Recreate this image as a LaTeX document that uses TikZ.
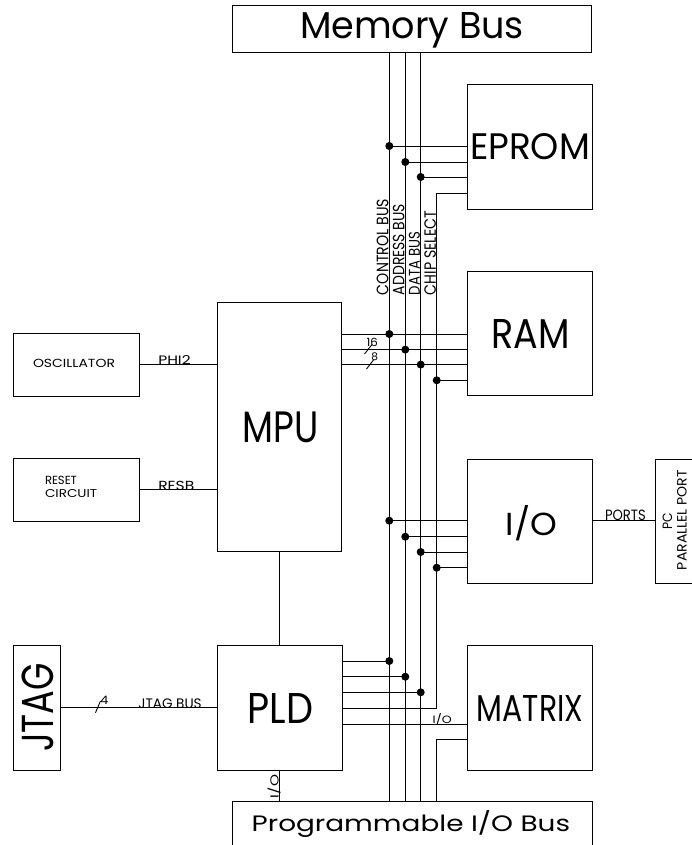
\documentclass[tikz,border=0pt]{standalone}
\usepackage{fontspec}
\setmainfont{Poppins}
\usepackage{graphicx}
\newcommand{\fitt}[3]{\resizebox{#1pt}{#2pt}{#3}}
\begin{document}
\begin{tikzpicture}[x=1pt,y=-1pt,
  blk/.style={draw, line width=0.8pt, inner sep=0pt, outer sep=0pt},
  txt/.style={anchor=base west, inner sep=0pt, outer sep=0pt},
  rtxt/.style={txt, rotate=90},
  wire/.style={line width=0.9pt},
  jdot/.style={fill, circle, minimum size=8pt, inner sep=0pt, outer sep=0pt}]
\useasboundingbox (0,0) rectangle (692,845);
\clip (0,0) rectangle (692,845);

% boxes
\node[blk, minimum width=359.4pt, minimum height=47pt]  (membus) at (412,29.2) {};
\node[blk, minimum width=124.6pt, minimum height=124.7pt] (eprom) at (529.9,146.6) {};
\node[blk, minimum width=124.6pt, minimum height=124pt]   (ram) at (529.9,333) {};
\node[blk, minimum width=124.6pt, minimum height=124.3pt] (io) at (529.9,521.1) {};
\node[blk, minimum width=124.6pt, minimum height=124.3pt] (matrix) at (529.9,707.9) {};
\node[blk, minimum width=125pt, minimum height=124.3pt]   (pld) at (279.5,707.9) {};
\node[blk, minimum width=124.4pt, minimum height=249pt]   (mpu) at (279.5,427.2) {};
\node[blk, minimum width=126pt, minimum height=62.7pt]    (osc) at (76.3,364.6) {};
\node[blk, minimum width=126pt, minimum height=63pt]      (reset) at (76.3,489.5) {};
\node[blk, minimum width=47pt, minimum height=124.3pt]    (jtag) at (36.8,707.9) {};
\node[blk, minimum width=360.4pt, minimum height=68.3pt]  (progbus) at (412.5,835.9) {};
\node[blk, minimum width=74.7pt, minimum height=124.3pt]  (pcport) at (692.6,521.1) {};

% bus x positions
\coordinate (xc) at (389.3,0);
\coordinate (xa) at (405.3,0);
\coordinate (xd) at (420.7,0);
\coordinate (xs) at (436.7,0);

% main buses
\draw[wire] (membus.south -| xc) -- (progbus.north -| xc);
\draw[wire] (membus.south -| xa) -- (progbus.north -| xa);
\draw[wire] (membus.south -| xd) -- (progbus.north -| xd);

% EPROM
\coordinate (e1) at (389.3,146);
\coordinate (e2) at (405.3,162);
\coordinate (e3) at (420.7,177);
\coordinate (e4) at (436.7,193);
\draw[wire] (e1) -- (eprom.west |- e1);
\draw[wire] (e2) -- (eprom.west |- e2);
\draw[wire] (e3) -- (eprom.west |- e3);
\coordinate (pcs) at (436.7,708);
\draw[wire] (eprom.west |- e4) -- (e4) -- (pcs) -- (pld.east |- pcs);
\node[jdot] (d-e1) at (e1) {};
\node[jdot] (d-e2) at (e2) {};
\node[jdot] (d-e3) at (e3) {};

% RAM / MPU
\coordinate (r1) at (389.3,334);
\coordinate (r2) at (405.3,349.6);
\coordinate (r3) at (420.7,364.6);
\coordinate (r4) at (436.7,380.3);
\draw[wire] (mpu.east |- r1) -- (ram.west |- r1);
\draw[wire] (mpu.east |- r2) -- (ram.west |- r2);
\draw[wire] (mpu.east |- r3) -- (ram.west |- r3);
\draw[wire] (r4) -- (ram.west |- r4);
\node[jdot] (d-r1) at (r1) {};
\node[jdot] (d-r2) at (r2) {};
\node[jdot] (d-r3) at (r3) {};
\node[jdot] (d-r4) at (r4) {};
\draw[wire] (364.5,354) -- (372,344.5);
\draw[wire] (366.5,369) -- (373.5,360);

% I/O
\coordinate (i1) at (389.3,520.7);
\coordinate (i2) at (405.3,536.7);
\coordinate (i3) at (420.7,552);
\coordinate (i4) at (436.7,567.7);
\draw[wire] (i1) -- (io.west |- i1);
\draw[wire] (i2) -- (io.west |- i2);
\draw[wire] (i3) -- (io.west |- i3);
\draw[wire] (i4) -- (io.west |- i4);
\node[jdot] (d-i1) at (i1) {};
\node[jdot] (d-i2) at (i2) {};
\node[jdot] (d-i3) at (i3) {};
\node[jdot] (d-i4) at (i4) {};
\draw[wire] (io.east |- i1) -- (pcport.west |- i1);

% PLD
\coordinate (p1) at (389.3,661);
\coordinate (p2) at (405.3,676.7);
\coordinate (p3) at (420.7,692.3);
\coordinate (p5) at (400,724);
\draw[wire] (pld.east |- p1) -- (p1);
\draw[wire] (pld.east |- p2) -- (p2);
\draw[wire] (pld.east |- p3) -- (p3);
\node[jdot] (d-p1) at (p1) {};
\node[jdot] (d-p2) at (p2) {};
\node[jdot] (d-p3) at (p3) {};
\draw[wire] (pld.east |- p5) -- (matrix.west |- p5);
\coordinate (m2) at (436.7,739.5);
\draw[wire] (matrix.west |- m2) -- (m2) -- (progbus.north -| m2);
\draw[wire] (pld.south) -- (progbus.north -| pld.south);
\draw[wire] (mpu.south) -- (pld.north);

% left side
\draw[wire] (osc.east) -- (mpu.west |- osc.east);
\draw[wire] (reset.east) -- (mpu.west |- reset.east);
\draw[wire] (jtag.east) -- (pld.west |- jtag.east);
\draw[wire] (95.5,712.7) -- (100.5,701);

% texts
\node[txt] (t-mem) at (300,39) {\fitt{224}{26}{Memory Bus}};
\node[txt] (t-eprom) at (470,159) {\fitt{120}{26}{EPROM}};
\node[txt] (t-ram) at (491.7,348.3) {\fitt{78.3}{29}{RAM}};
\node[txt] (t-mpu) at (242.3,442.3) {\fitt{76}{30.6}{MPU}};
\node[txt] (t-io) at (505.7,535) {\fitt{51.3}{30}{I/O}};
\node[txt] (t-pld) at (247.7,723.3) {\fitt{65.6}{30}{PLD}};
\node[txt] (t-matrix) at (476.7,721) {\fitt{106.6}{26}{MATRIX}};
\node[txt] (t-prog) at (251.7,831.7) {\fitt{318.3}{21}{Programmable I/O Bus}};
\node[rtxt] (t-jtag) at (53.3,751.7) {\fitt{88.7}{31.6}{JTAG}};
\node[txt] (t-osc) at (33,367.3) {\fitt{82}{8.3}{OSCILLATOR}};
\node[txt] (t-reset) at (45,484) {\fitt{32}{8.3}{RESET}};
\node[txt] (t-circ) at (45,497) {\fitt{52.3}{8}{CIRCUIT}};
\node[txt] (t-phi) at (158.3,364) {\fitt{32.4}{9}{PHI2}};
\node[txt] (t-resb) at (158.3,490) {\fitt{36}{9.3}{RESB}};
\node[rtxt] (t-ctl) at (388.3,295) {\fitt{96}{11.7}{CONTROL BUS}};
\node[rtxt] (t-adr) at (404.3,295) {\fitt{91}{11.5}{ADDRESS BUS}};
\node[rtxt] (t-dat) at (419.8,295) {\fitt{63}{11}{DATA BUS}};
\node[rtxt] (t-cs) at (435.8,295) {\fitt{84}{11.5}{CHIP SELECT}};
\node[txt] (t-16) at (366.7,346) {\fitt{11.3}{8.3}{16}};
\node[txt] (t-8) at (371.3,360) {\fitt{6.7}{7.7}{8}};
\node[txt] (t-ports) at (605,520.2) {\fitt{40.7}{10.5}{PORTS}};
\node[rtxt] (t-pc) at (672,529.5) {\fitt{16.6}{9.5}{PC}};
\node[rtxt] (t-par) at (686.5,570) {\fitt{100}{9.5}{PARALLEL PORT}};
\node[txt] (t-io2) at (432.7,723.3) {\fitt{19}{10}{I/O}};
\node[rtxt] (t-io3) at (278.5,798) {\fitt{23}{11}{I/O}};
\node[txt] (t-4) at (100,704) {\fitt{8.3}{8.3}{4}};
\node[txt] (t-jbus) at (138.3,708) {\fitt{63.4}{9.7}{JTAG BUS}};
\end{tikzpicture}
\end{document}
